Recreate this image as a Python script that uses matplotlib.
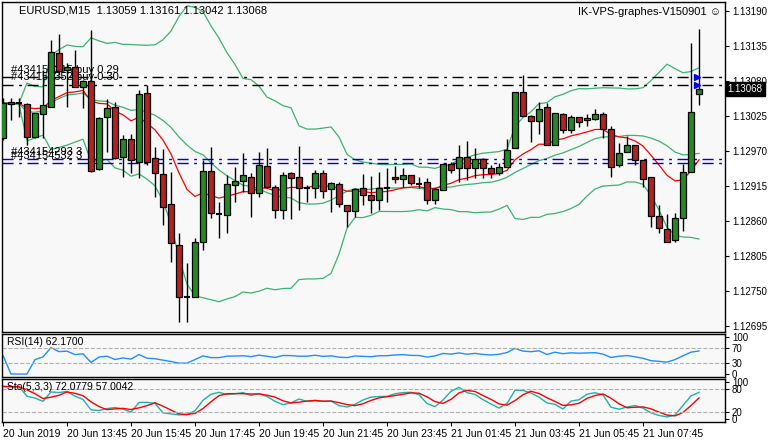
import numpy as np
import pandas as pd
import matplotlib.pyplot as plt

plt.rcParams['font.family'] = ['Liberation Sans', 'DejaVu Sans']

# EURUSD M15 bars, 20 Jun 2019 11:45 onward
opens = [112990, 113047, 113045, 113044, 112992, 113028, 113039, 113124, 113097, 113102,
         113071, 113080, 112942, 113023, 113039, 112961, 112989, 112953, 113061, 112959,
         112934, 112887, 112822, 112741, 112741, 112827, 112939, 112871, 112869, 112917,
         112923, 112929, 112904, 112946, 112913, 112877, 112935, 112929, 112912, 112912,
         112935, 112910, 112918, 112885, 112876, 112912, 112901, 112893, 112912, 112929,
         112926, 112932, 112918, 112921, 112893, 112909, 112950, 112943, 112961, 112943,
         112957, 112943, 112935, 112945, 112975, 113063, 113025, 113017, 113039, 112979,
         113028, 113003, 113023, 113019, 113020, 113028, 113005, 112948, 112968, 112979,
         112956, 112929, 112868, 112847, 112830, 112865, 112937, 113059]
highs = [113053, 113053, 113053, 113045, 113030, 113097, 113144, 113154, 113108, 113129,
         113082, 113160, 113023, 113052, 113047, 112995, 112997, 113066, 113074, 112976,
         112973, 112937, 112841, 112794, 112833, 112956, 112976, 112890, 112932, 112945,
         112967, 112935, 112968, 112975, 112917, 112937, 112937, 112978, 112917, 112940,
         112940, 112921, 112921, 112885, 112912, 112934, 112931, 112937, 112943, 112946,
         112943, 112932, 112929, 112928, 112912, 112951, 112953, 112979, 112986, 112975,
         112959, 112948, 112951, 112989, 113063, 113089, 113027, 113047, 113045, 113030,
         113030, 113027, 113023, 113028, 113036, 113031, 113009, 112983, 112994, 112979,
         112956, 112929, 112885, 112871, 112873, 112950, 113140, 113161]
lows = [112987, 113019, 113023, 112979, 112990, 112990, 113039, 113089, 113039, 113071,
        113038, 112937, 112940, 112968, 112957, 112929, 112935, 112928, 112948, 112898,
        112854, 112796, 112701, 112701, 112741, 112814, 112865, 112833, 112841, 112890,
        112906, 112866, 112898, 112912, 112865, 112863, 112863, 112877, 112890, 112896,
        112896, 112874, 112882, 112851, 112866, 112885, 112873, 112877, 112890, 112920,
        112913, 112917, 112912, 112887, 112887, 112909, 112935, 112921, 112924, 112928,
        112928, 112928, 112932, 112945, 112975, 113025, 112984, 112997, 112979, 112979,
        112998, 112998, 113008, 113009, 113019, 112990, 112929, 112945, 112968, 112948,
        112913, 112851, 112841, 112827, 112827, 112844, 112937, 113042]
closes = [113045, 113044, 113044, 112992, 113030, 113042, 113126, 113096, 113102, 113071,
          113080, 112939, 113022, 113038, 112959, 112989, 112956, 113060, 112953, 112935,
          112882, 112825, 112741, 112742, 112827, 112939, 112873, 112871, 112918, 112923,
          112932, 112904, 112948, 112913, 112877, 112932, 112928, 112912, 112912, 112935,
          112907, 112920, 112887, 112876, 112910, 112901, 112893, 112912, 112913, 112926,
          112932, 112920, 112918, 112893, 112910, 112950, 112940, 112961, 112943, 112957,
          112943, 112935, 112945, 112972, 113063, 113025, 113017, 113036, 112979, 113030,
          113003, 113023, 113016, 113022, 113028, 113005, 112945, 112967, 112979, 112956,
          112926, 112868, 112849, 112827, 112865, 112937, 113031, 113068]

tick_idx = [0, 8, 16, 24, 32, 40, 48, 56, 64, 72, 80]
tick_labels = ['20 Jun 2019', '20 Jun 13:45', '20 Jun 15:45', '20 Jun 17:45', '20 Jun 19:45',
               '20 Jun 21:45', '20 Jun 23:45', '21 Jun 01:45', '21 Jun 03:45', '21 Jun 05:45',
               '21 Jun 07:45']
price_ticks = [1.13190, 1.13135, 1.13080, 1.13025, 1.12970, 1.12915, 1.12860, 1.12805, 1.12750, 1.12695]
buy_levels = [1.13086, 1.13074]
sell_levels = [1.12957, 1.12951]

df = pd.DataFrame({'o': opens, 'h': highs, 'l': lows, 'c': closes}) / 1e5
n = len(df)
x = np.arange(n)

# indicators
mid = df.c.rolling(20, min_periods=1).mean()
sd = df.c.rolling(20, min_periods=2).std(ddof=0).bfill()
upper = mid + 2 * sd
lower = mid - 2 * sd
ema = df.c.ewm(span=14, adjust=False).mean()

delta = df.c.diff()
gain = delta.clip(lower=0).ewm(alpha=1 / 14, adjust=False).mean()
loss = (-delta.clip(upper=0)).ewm(alpha=1 / 14, adjust=False).mean()
rsi = 100 - 100 / (1 + gain / loss.replace(0, np.nan))
rsi = rsi.fillna(50)

ll = df.l.rolling(5, min_periods=1).min()
hh = df.h.rolling(5, min_periods=1).max()
k = 100 * (df.c - ll).rolling(3, min_periods=1).sum() / (hh - ll).rolling(3, min_periods=1).sum()
d = k.rolling(3, min_periods=1).mean()

bg = '#f8f8f8'
fig = plt.figure(figsize=(7.68, 4.4), dpi=100)
fig.patch.set_facecolor('white')
L, W = 2 / 768, 723 / 768
ax = fig.add_axes([L, 1 - 332 / 440, W, 330 / 440])
ax_r = fig.add_axes([L, 1 - 377 / 440, W, 43 / 440])
ax_s = fig.add_axes([L, 1 - 422 / 440, W, 43 / 440])

xlim = (-0.125, 90.25)
for a in (ax, ax_r, ax_s):
    a.set_facecolor(bg)
    a.set_xlim(*xlim)
    a.yaxis.tick_right()
    a.tick_params(axis='y', labelsize=7, length=3, pad=2)
    a.tick_params(axis='x', length=0)
    a.set_xticks([])
    for s in a.spines.values():
        s.set_linewidth(1)

# candles
for i in range(n):
    o, h, l, c = df.o[i], df.h[i], df.l[i], df.c[i]
    col = '#228b22' if c >= o else '#b22222'
    ax.vlines(i, l, h, color='black', lw=1, zorder=3)
    lo, hi = min(o, c), max(o, c)
    if hi - lo < 0.000015:
        ax.hlines(o, i - 0.4, i + 0.4, color='black', lw=1.5, zorder=4)
    else:
        ax.bar(i, hi - lo, bottom=lo, width=0.75, color=col, edgecolor='black', lw=0.9, zorder=4)

ax.plot(x, upper, color='#3cb371', lw=0.9)
ax.plot(x, mid, color='#3cb371', lw=0.9)
ax.plot(x, lower, color='#3cb371', lw=0.9)
ax.plot(x, ema, color='red', lw=0.9)

for lv in buy_levels:
    ax.axhline(lv, color='black', lw=1, ls=(0, (8, 4, 2, 4)))
for lv in sell_levels:
    ax.axhline(lv, color='#0000dd', lw=1, ls=(0, (8, 4, 2, 4)))
ax.plot([n - 1 - 0.3] * 2, buy_levels, ls='none', marker='>', color='blue', ms=5, zorder=6)

ax.text(1, buy_levels[0] + 0.00004, '#434154215 buy 0.29', fontsize=8, va='bottom')
ax.text(1, buy_levels[1] + 0.00004, '#434154352 buy 0.30', fontsize=8, va='bottom')
ax.text(1, sell_levels[0] + 0.00004, '#434154293 3', fontsize=8, va='bottom')
ax.text(1, sell_levels[1] + 0.00004, '#434154532 3', fontsize=8, va='bottom')

ax.set_ylim(1.126856, 1.132041)
ax.set_yticks(price_ticks)
ax.set_yticklabels([f'{p:.5f}' for p in price_ticks])
ax.text(2, 1.13190, 'EURUSD,M15  1.13059 1.13161 1.13042 1.13068', fontsize=8, va='center')
ax.text(0.995, 0.985, 'IK-VPS-graphes-V150901 \u263a', transform=ax.transAxes, fontsize=8,
        ha='right', va='top')
ax.annotate(f'{closes[-1] / 1e5:.5f}', xy=(1.0, closes[-1] / 1e5), xycoords=('axes fraction', 'data'),
            xytext=(2, 0), textcoords='offset points', fontsize=7, color='white', va='center',
            bbox=dict(boxstyle='square,pad=0.2', fc='black', ec='black'))

ax_r.plot(x, rsi, color='#1e90ff', lw=1)
ax_r.set_ylim(-8, 108)
for lv in (30, 70):
    ax_r.axhline(lv, color='#b0b0b0', lw=0.8, ls='--')
ax_r.set_yticks([100, 70, 30, 0])
ax_r.text(0.5, 100, f'RSI(14) {rsi.iloc[-1]:.4f}', fontsize=7.5, va='top')

ax_s.plot(x, k, color='#20b2aa', lw=1)
ax_s.plot(x, d, color='red', lw=1)
ax_s.set_ylim(-8, 108)
for lv in (20, 80):
    ax_s.axhline(lv, color='#b0b0b0', lw=0.8, ls='--')
ax_s.set_yticks([100, 80, 20, 0])
ax_s.text(0.5, 100, f'Sto(5,3,3) {k.iloc[-1]:.4f} {d.iloc[-1]:.4f}', fontsize=7.5, va='top')

ax_s.set_xticks(tick_idx)
ax_s.set_xticklabels(tick_labels, fontsize=7.5, ha='left')
ax_s.tick_params(axis='x', length=3, pad=2)

fig.savefig('out.png', dpi=100, facecolor='white')
